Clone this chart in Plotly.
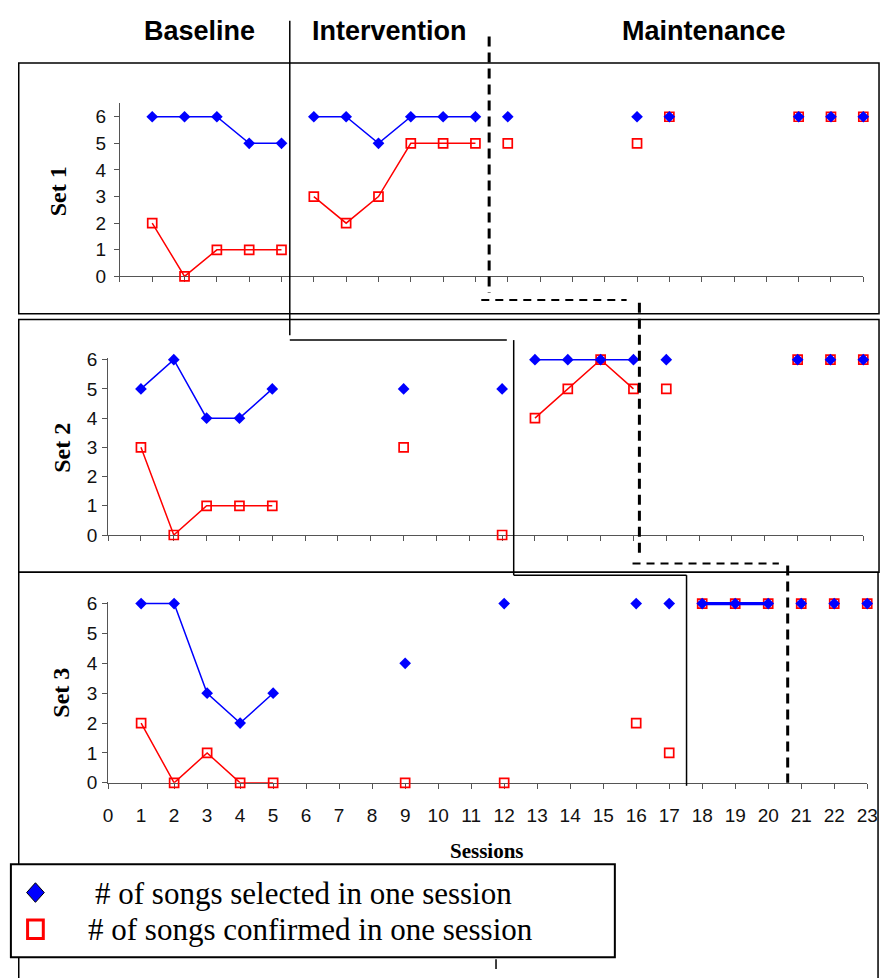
import plotly.graph_objects as go

W, H = 891, 978

# ---------------- data ----------------
sessions = list(range(1, 24))
x_ticks = list(range(0, 24))
y_ticks = [0, 1, 2, 3, 4, 5, 6]

set1_selected = [6, 6, 6, 5, 5, 6, 6, 5, 6, 6, 6, 6, None, None, None, 6, 6, None, None, None, 6, 6, 6]
set1_confirmed = [2, 0, 1, 1, 1, 3, 2, 3, 5, 5, 5, 5, None, None, None, 5, 6, None, None, None, 6, 6, 6]

set2_selected = [5, 6, 4, 4, 5, None, None, None, 5, None, None, 5, 6, 6, 6, 6, 6, None, None, None, 6, 6, 6]
set2_confirmed = [3, 0, 1, 1, 1, None, None, None, 3, None, None, 0, 4, 5, 6, 5, 5, None, None, None, 6, 6, 6]

set3_selected = [6, 6, 3, 2, 3, None, None, None, 4, None, None, 6, None, None, None, 6, 6, 6, 6, 6, 6, 6, 6]
set3_confirmed = [2, 0, 1, 0, 0, None, None, None, 0, None, None, 0, None, None, None, 2, 1, 6, 6, 6, 6, 6, 6]

# sessions joined by lines (baseline and intervention runs)
set1_runs = [(1, 5), (6, 11)]
set2_runs = [(1, 5), (13, 16)]
set3_runs = [(1, 5), (18, 20)]

phase_labels = ["Baseline", "Intervention", "Maintenance"]
set_labels = ["Set 1", "Set 2", "Set 3"]
legend_labels = ["# of songs selected in one session", "# of songs confirmed in one session"]
x_title = "Sessions"

# ---------------- styling / geometry ----------------
BLUE = "#0000FF"
RED = "#FF0000"
AXC = "#555555"
SANS = "Liberation Sans, Arial, sans-serif"
SERIF = "Liberation Serif, Times New Roman, serif"

# pixel geometry of each panel: x0/x1 = pixel of session 0/23; y0 = pixel of value 0, unit = px per value
panels = [
    dict(x0=117, x1=874, y0=273, unit=27.17, ymax=6.5, standoff=4),
    dict(x0=105, x1=874, y0=537, unit=29.83, ymax=6.05, standoff=1),
    dict(x0=105, x1=878, y0=790, unit=30.5, ymax=6.05, standoff=1),
]
sets = [
    (set1_selected, set1_confirmed, set1_runs),
    (set2_selected, set2_confirmed, set2_runs),
    (set3_selected, set3_confirmed, set3_runs),
]


def px(x):
    return x / W


def py(y):
    return 1 - y / H


fig = go.Figure()

for i, (sel, conf, runs) in enumerate(sets):
    xa = "x" if i == 0 else f"x{i + 1}"
    ya = "y" if i == 0 else f"y{i + 1}"
    # confirmed (red) first, selected (blue) on top
    for (a, b) in runs:
        xs = [s for s in sessions if a <= s <= b and conf[s - 1] is not None]
        fig.add_trace(go.Scatter(
            x=xs, y=[conf[s - 1] for s in xs], mode="lines",
            line=dict(color=RED, width=1.5), xaxis=xa, yaxis=ya,
            hoverinfo="skip", showlegend=False))
    fig.add_trace(go.Scatter(
        x=sessions, y=conf, mode="markers", name=legend_labels[1],
        marker=dict(symbol="square-open", size=9, color=RED, line=dict(width=1.7)),
        cliponaxis=False, xaxis=xa, yaxis=ya, showlegend=False))
    for (a, b) in runs:
        xs = [s for s in sessions if a <= s <= b and sel[s - 1] is not None]
        thick = (i == 2 and a >= 18)
        fig.add_trace(go.Scatter(
            x=xs, y=[sel[s - 1] for s in xs], mode="lines",
            line=dict(color=BLUE, width=3.5 if thick else 1.5), xaxis=xa, yaxis=ya,
            hoverinfo="skip", showlegend=False))
    fig.add_trace(go.Scatter(
        x=sessions, y=sel, mode="markers", name=legend_labels[0],
        marker=dict(symbol="diamond", size=9, color=BLUE, line=dict(width=0)),
        cliponaxis=False, xaxis=xa, yaxis=ya, showlegend=False))

layout_axes = {}
for i, p in enumerate(panels):
    xk = "xaxis" if i == 0 else f"xaxis{i + 1}"
    yk = "yaxis" if i == 0 else f"yaxis{i + 1}"
    xa = "x" if i == 0 else f"x{i + 1}"
    ya = "y" if i == 0 else f"y{i + 1}"
    top = p["y0"] - p["ymax"] * p["unit"]
    layout_axes[xk] = dict(
        domain=[px(p["x0"]), px(p["x1"])], range=[0, 23], anchor=ya,
        tickmode="array", tickvals=x_ticks, ticktext=[str(t) for t in x_ticks],
        showticklabels=(i == 2), ticks="outside", ticklen=5, tickwidth=1, tickcolor=AXC,
        showline=True, linecolor=AXC, linewidth=1, showgrid=False, zeroline=False,
        tickfont=dict(family=SANS, size=19, color="#111111"), ticklabelstandoff=10,
        layer="below traces", fixedrange=True)
    layout_axes[yk] = dict(
        domain=[py(p["y0"]), py(top)], range=[0, p["ymax"]], anchor=xa,
        tickmode="array", tickvals=y_ticks, ticktext=[str(t) for t in y_ticks],
        ticks="outside", ticklen=5, tickwidth=1, tickcolor=AXC,
        showline=True, linecolor=AXC, linewidth=1, showgrid=False, zeroline=False,
        tickfont=dict(family=SANS, size=19, color="#111111"), ticklabelstandoff=p["standoff"],
        layer="below traces", fixedrange=True)

shapes = []


def seg(x0, y0, x1, y1, width=1.5, dash="solid", color="black"):
    shapes.append(dict(type="line", xref="paper", yref="paper",
                       x0=px(x0), y0=py(y0), x1=px(x1), y1=py(y1),
                       line=dict(color=color, width=width, dash=dash)))


def box(x0, y0, x1, y1, width=1.5, fill="rgba(0,0,0,0)"):
    shapes.append(dict(type="rect", xref="paper", yref="paper",
                       x0=px(x0), y0=py(y0), x1=px(x1), y1=py(y1),
                       line=dict(color="black", width=width), fillcolor=fill))


# panel frames
box(14, 55, 890, 311)
box(14, 317, 890, 575)
box(14, 575, 889, 1000)
seg(500, 970, 500, 980)

# solid phase-change line (baseline -> intervention)
seg(290, 12, 290, 333)
seg(290, 338, 511, 338)
seg(518, 338, 518, 578)
seg(518, 578, 694, 578)
seg(694, 578, 694, 793)

# dashed phase-change line (intervention -> maintenance)
vd = "10px,6px"
hd = "8px,6px"
seg(493, 28, 493, 290, width=3, dash=vd)
seg(485, 297, 633, 297, width=2, dash=hd)
seg(646, 300, 646, 560, width=3, dash=vd)
seg(639, 566, 788, 566, width=2, dash=hd)
seg(797, 568, 797, 790, width=3, dash=vd)

# legend frame and symbols
box(6, 873, 621, 968, width=2, fill="white")
cx, cy = 31, 902
shapes.append(dict(type="path", xref="paper", yref="paper",
                   path=f"M {px(cx - 9)},{py(cy)} L {px(cx)},{py(cy - 10)} L {px(cx + 9)},{py(cy)} L {px(cx)},{py(cy + 10)} Z",
                   fillcolor=BLUE, line=dict(color="black", width=1)))
shapes.append(dict(type="rect", xref="paper", yref="paper",
                   x0=px(23), y0=py(930), x1=px(39), y1=py(949),
                   fillcolor="white", line=dict(color=RED, width=3)))

annotations = []
for label, cxp in zip(phase_labels, [198, 392, 712]):
    annotations.append(dict(text=f"<b>{label}</b>", x=px(cxp), y=py(22), xref="paper", yref="paper",
                            xanchor="center", yanchor="middle", showarrow=False,
                            font=dict(family=SANS, size=27, color="black")))
for label, (lx, ly) in zip(set_labels, [(54, 186), (58, 448), (57, 698)]):
    annotations.append(dict(text=f"<b>{label}</b>", x=px(lx), y=py(ly), xref="paper", yref="paper",
                            xanchor="center", yanchor="middle", showarrow=False, textangle=-90,
                            font=dict(family=SERIF, size=24, color="black")))
annotations.append(dict(text=f"<b>{x_title}</b>", x=px(491), y=py(860), xref="paper", yref="paper",
                        xanchor="center", yanchor="middle", showarrow=False,
                        font=dict(family=SERIF, size=21, color="black")))
for label, (lx, ly) in zip(legend_labels, [(90, 903), (82, 940)]):
    annotations.append(dict(text=label, x=px(lx), y=py(ly), xref="paper", yref="paper",
                            xanchor="left", yanchor="middle", showarrow=False,
                            font=dict(family=SERIF, size=31, color="black")))

fig.update_layout(
    width=W, height=H, margin=dict(l=0, r=0, t=0, b=0),
    paper_bgcolor="white", plot_bgcolor="rgba(0,0,0,0)",
    showlegend=False, shapes=shapes, annotations=annotations,
    **layout_axes)

fig.write_html(
    "out.html", config={"displayModeBar": False},
    post_script="document.body.style.margin='0';document.documentElement.style.overflow='hidden';")
